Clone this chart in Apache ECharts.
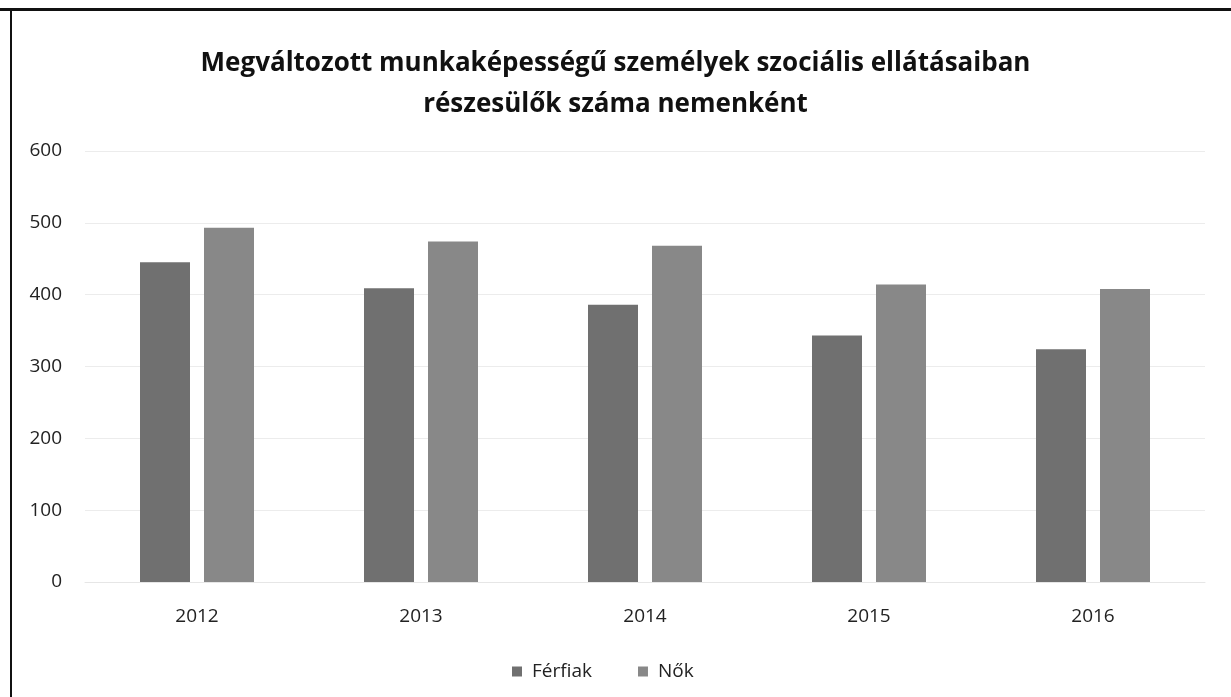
<!DOCTYPE html>
<html>
<head>
<meta charset="utf-8">
<script src="https://cdn.jsdelivr.net/npm/echarts@6/dist/echarts.min.js"></script>
<style>
  html, body { margin: 0; padding: 0; background: #fff; }
  #chart { width: 1231px; height: 697px; }
</style>
</head>
<body>
<div id="chart"></div>
<script>
const titleLines = ['Megváltozott munkaképességű személyek szociális ellátásaiban', 'részesülők száma nemenként'];
const years = ['2012', '2013', '2014', '2015', '2016'];
const seriesNames = ['Férfiak', 'Nők'];
const menValues = [445, 409, 386, 343, 324];
const womenValues = [493, 474, 468, 414, 408];
const yTicks = { min: 0, max: 600, interval: 100 };

const chart = echarts.init(document.getElementById('chart'), null, { renderer: 'canvas' });
const font = 'Open Sans, Noto Sans, sans-serif';

chart.setOption({
  animation: false,
  backgroundColor: '#ffffff',
  title: {
    text: titleLines.join('\n'),
    left: 'center',
    top: 38,
    textStyle: { fontFamily: font, fontSize: 26, fontWeight: 'bold', color: '#111', lineHeight: 41 }
  },
  // frame lines along the top and left edges
  graphic: [
    { type: 'rect', shape: { x: 0, y: 8, width: 1231, height: 3 }, style: { fill: '#111' } },
    { type: 'rect', shape: { x: 10, y: 8, width: 2, height: 689 }, style: { fill: '#111' } }
  ],
  legend: {
    data: seriesNames,
    left: 507,
    top: 657,
    itemWidth: 10,
    itemHeight: 10,
    itemGap: 46,
    icon: 'rect',
    textStyle: { fontFamily: font, fontSize: 19, color: '#222', padding: [0, 0, 0, 5] }
  },
  grid: { left: 85, right: 26, top: 151, bottom: 697 - 582 },
  xAxis: {
    type: 'category',
    data: years,
    axisLine: { show: true, lineStyle: { color: '#e6e6e6', width: 1 } },
    axisTick: { show: false },
    axisLabel: { fontFamily: font, fontSize: 19, color: '#222', margin: 25 }
  },
  yAxis: {
    type: 'value',
    min: yTicks.min,
    max: yTicks.max,
    interval: yTicks.interval,
    axisLine: { show: false },
    axisTick: { show: false },
    splitLine: { lineStyle: { color: '#ececec', width: 1 } },
    axisLabel: { fontFamily: font, fontSize: 19, color: '#222', margin: 23 }
  },
  series: [
    {
      name: seriesNames[0],
      type: 'bar',
      data: menValues,
      barWidth: 50,
      barGap: '28%',
      itemStyle: { color: '#707070' }
    },
    {
      name: seriesNames[1],
      type: 'bar',
      data: womenValues,
      barWidth: 50,
      itemStyle: { color: '#888888' }
    }
  ]
});
</script>
</body>
</html>
